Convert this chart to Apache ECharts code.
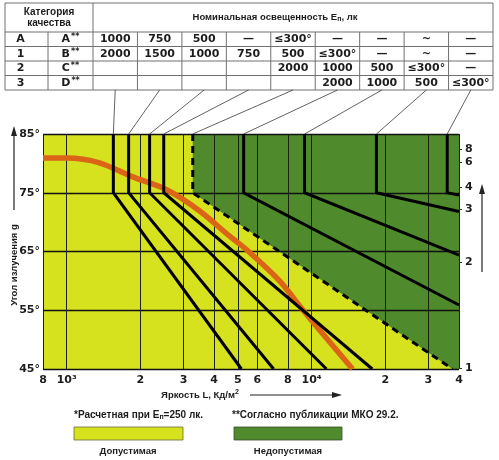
<!DOCTYPE html>
<html>
<head>
<meta charset="utf-8">
<script src="https://cdn.jsdelivr.net/npm/echarts@6/dist/echarts.min.js"></script>
<style>
  html, body { margin: 0; padding: 0; background: #fff; }
  #main { width: 499px; height: 460px; }
</style>
</head>
<body>
<div id="main"></div>
<script>
// luminance axis (cd/m2), log scale
const lumTicks = [800, 1000, 2000, 3000, 4000, 5000, 6000, 8000, 10000, 20000, 30000, 40000];
const lumLabels = ['8', '10³', '2', '3', '4', '5', '6', '8', '10⁴', '2', '3', '4'];

// emission angle axis
const angleTicks = [45, 55, 65, 75, 85];

// right scale (luminance ratio) at angles
const ratioAngles = [82.4, 80.2, 76, 72.2, 63.2, 45.2];
const ratioLabels = ['8', '6', '4', '3', '2', '1'];

// limit curves: vertical 85° -> 75° at topLum, then straight to endLum / endAngle
const curveTopLum = [1550, 1790, 2180, 2490, 3270, 5280, 9360, 18400, 35800];
const curveEndLum = [5170, 7000, 11500, 17700, 37600, 40000, 40000, 40000, 40000];
const curveEndAngle = [45, 45, 45, 45, 45, 55.9, 64.4, 71.8, 74.6];
const kneeAngle = 75;
const boundaryIdx = 4; // dashed curve = border of admissible zone

// calculated curve for En = 250 lx
const calcLum = [800, 1000, 1360, 1860, 2560, 3490, 4630, 5430, 7400, 9360, 14700];
const calcAngle = [80.9, 80.9, 80.1, 77.7, 75.5, 71.9, 67.6, 65.3, 60.0, 54.7, 45];

// table
const qualityCats = ['A', '1', '2', '3'];
const cieCats = ['A', 'B', 'C', 'D'];
const illumRows = [
  ['1000', '750', '500', '—', '≤300°', '—', '—', '~', '—'],
  ['2000', '1500', '1000', '750', '500', '≤300°', '—', '~', '—'],
  ['', '', '', '', '2000', '1000', '500', '≤300°', '—'],
  ['', '', '', '', '', '2000', '1000', '500', '≤300°']
];

const YELLOW = '#d5e21d';
const GREEN = '#4f8b2c';
const ORANGE = '#dc6416';
const INK = '#1c1c1c';
const FONT = '"DejaVu Sans", sans-serif';
const SMALL = '"Liberation Sans", Arial, sans-serif';

const chart = echarts.init(document.getElementById('main'));

function nearestLabel(v, vals, labels, log) {
  let best = 0, bd = Infinity;
  vals.forEach((t, i) => {
    const d = log ? Math.abs(Math.log(v) - Math.log(t)) : Math.abs(v - t);
    if (d < bd) { bd = d; best = i; }
  });
  return labels[best];
}

const labelStyle = { color: INK, fontWeight: 'bold', fontSize: 11, fontFamily: FONT };

const curveSeries = curveTopLum.map((top, i) => ({
  type: 'line',
  z: 5,
  symbol: 'none',
  silent: true,
  data: [[top, 85], [top, kneeAngle], [curveEndLum[i], curveEndAngle[i]]],
  lineStyle: {
    color: '#000',
    width: 3,
    type: i === boundaryIdx ? [7, 5] : 'solid',
    cap: 'butt',
    join: 'miter'
  }
}));

const b = boundaryIdx;
const option = {
  animation: false,
  grid: {
    left: 43, right: 40, top: 134, bottom: 91,
    show: true, backgroundColor: YELLOW, borderWidth: 0,
    containLabel: false, outerBoundsMode: 'none'
  },
  xAxis: {
    type: 'log', logBase: 10, min: 800, max: 40000, z: 3,
    axisLine: { show: false },
    axisTick: { show: false, customValues: lumTicks },
    axisLabel: Object.assign({
      customValues: lumTicks, margin: 6,
      formatter: v => nearestLabel(v, lumTicks, lumLabels, true)
    }, labelStyle),
    splitLine: { show: true, lineStyle: { color: '#1a240c', width: 1 } }
  },
  yAxis: [{
    type: 'value', min: angleTicks[0], max: angleTicks[angleTicks.length - 1], interval: 10, z: 3,
    axisLine: { show: false },
    axisTick: { show: false },
    axisLabel: Object.assign({ margin: 3, formatter: '{value}°' }, labelStyle),
    splitLine: { show: true, lineStyle: { color: '#111', width: 1.4 } }
  }, {
    type: 'value', min: 45, max: 85, position: 'right', z: 3,
    axisLine: { show: false },
    axisTick: { show: true, length: 3, customValues: ratioAngles, lineStyle: { color: '#333', width: 1 } },
    axisLabel: Object.assign({
      customValues: ratioAngles, margin: 6,
      formatter: v => nearestLabel(v, ratioAngles, ratioLabels, false)
    }, labelStyle),
    splitLine: { show: false }
  }],
  series: [{
    // inadmissible zone, above the dashed border
    type: 'line', z: 1, symbol: 'none', silent: true,
    data: [[curveTopLum[b], 85], [curveTopLum[b], kneeAngle], [curveEndLum[b], 45], [40000, 45]],
    lineStyle: { width: 0 },
    areaStyle: { color: GREEN, opacity: 1, origin: 'end' }
  }, {
    type: 'line', z: 4, symbol: 'none', silent: true, smooth: 0.3,
    data: calcLum.map((l, i) => [l, calcAngle[i]]),
    lineStyle: { color: ORANGE, width: 5.5 }
  }].concat(curveSeries)
};

chart.setOption(option);

// ---- table, connectors, captions ----
const g = [];
const LINE = '#707070';
function line(x1, y1, x2, y2, stroke, w) {
  g.push({ type: 'line', silent: true, shape: { x1, y1, x2, y2 }, style: { stroke: stroke || LINE, lineWidth: w || 1 } });
}
function text(x, y, t, opt) {
  const el = {
    type: 'text', silent: true, x, y,
    style: Object.assign({
      text: t, fill: INK, font: 'bold 11px ' + FONT,
      align: 'center', verticalAlign: 'middle', textAlign: 'center', textVerticalAlign: 'middle'
    }, opt || {})
  };
  g.push(el);
  return el;
}

const tLeft = 5, tMid = 48, tVals = 93, tRight = 493;
const tTop = 3, tHead = 32, rowH = 14.5;
const colW = (tRight - tVals) / 9;
const tBottom = tHead + rowH * 4;

// frame
g.push({ type: 'rect', silent: true, shape: { x: tLeft, y: tTop, width: tRight - tLeft, height: tBottom - tTop },
  style: { fill: 'none', stroke: LINE, lineWidth: 1 } });
line(tVals, tTop, tVals, tBottom);
line(tMid, tHead, tMid, tBottom);
for (let r = 0; r < 4; r++) line(tLeft, tHead + r * rowH, tRight, tHead + r * rowH);
for (let c = 1; c < 9; c++) line(tVals + c * colW, tHead, tVals + c * colW, tBottom);

const headFont = 'bold 9.5px ' + SMALL;
text((tLeft + tVals) / 2, 12, 'Категория', { font: 'bold 10px ' + SMALL });
text((tLeft + tVals) / 2, 23, 'качества', { font: 'bold 10px ' + SMALL });
text(275, 17, 'Номинальная освещенность E{sub|п}, лк', {
  font: headFont,
  rich: { sub: { font: 'bold 7px ' + SMALL, padding: [5, 0, 0, 0] } }
});

qualityCats.forEach((q, r) => {
  const y = tHead + rowH * (r + 0.5);
  text((tLeft + tMid) / 2 - 6, y, q);
  text((tMid + tVals) / 2, y, cieCats[r] + '{sup|**}', {
    rich: { sup: { font: 'bold 8px ' + FONT, padding: [0, 0, 4, 1] } }
  });
  illumRows[r].forEach((v, c) => {
    if (v) text(tVals + colW * (c + 0.5), y, v);
  });
});

// connectors from table columns to curve tops
curveTopLum.forEach((l, i) => {
  const p = chart.convertToPixel({ xAxisIndex: 0, yAxisIndex: 0 }, [l, 85]);
  line(tVals + colW * (i + 0.5), tBottom, p[0], p[1], '#3a3a3a', 0.8);
});

// axis names and arrows
const yName = text(14, 265, 'Угол излучения g', { font: 'bold 9.5px ' + SMALL });
yName.rotation = Math.PI / 2;
line(14, 210, 14, 133, '#222', 1.2);
g.push({ type: 'polygon', silent: true, shape: { points: [[14, 126], [11, 136], [17, 136]] }, style: { fill: '#222' } });

line(482, 272, 482, 191, '#222', 1.2);
g.push({ type: 'polygon', silent: true, shape: { points: [[482, 184], [479, 194], [485, 194]] }, style: { fill: '#222' } });

text(200, 395, 'Яркость L, Кд/м{sup|2}', {
  font: 'bold 9.5px ' + SMALL,
  rich: { sup: { font: 'bold 7px ' + SMALL, padding: [0, 0, 6, 0] } }
});
line(250, 395, 334, 395, '#222', 1.2);
g.push({ type: 'polygon', silent: true, shape: { points: [[342, 395], [332, 392], [332, 398]] }, style: { fill: '#222' } });

// footnotes
text(74, 415, '*Расчетная при E{sub|п}=250 лк.', {
  font: 'bold 10px ' + SMALL, align: 'left', textAlign: 'left',
  rich: { sub: { font: 'bold 7px ' + SMALL, padding: [5, 0, 0, 0] } }
});
text(232, 415, '**Согласно публикации МКО 29.2.', { font: 'bold 10px ' + SMALL, align: 'left', textAlign: 'left' });

// legend boxes
g.push({ type: 'rect', silent: true, shape: { x: 74, y: 427, width: 109, height: 13 }, style: { fill: YELLOW, stroke: '#6a6a3a', lineWidth: 0.8 } });
g.push({ type: 'rect', silent: true, shape: { x: 234, y: 427, width: 108, height: 13 }, style: { fill: GREEN, stroke: '#3a4a2a', lineWidth: 0.8 } });
text(128, 451, 'Допустимая', { font: 'bold 9.5px ' + SMALL });
text(288, 451, 'Недопустимая', { font: 'bold 9.5px ' + SMALL });

chart.setOption({ graphic: { elements: g } });
</script>
</body>
</html>
